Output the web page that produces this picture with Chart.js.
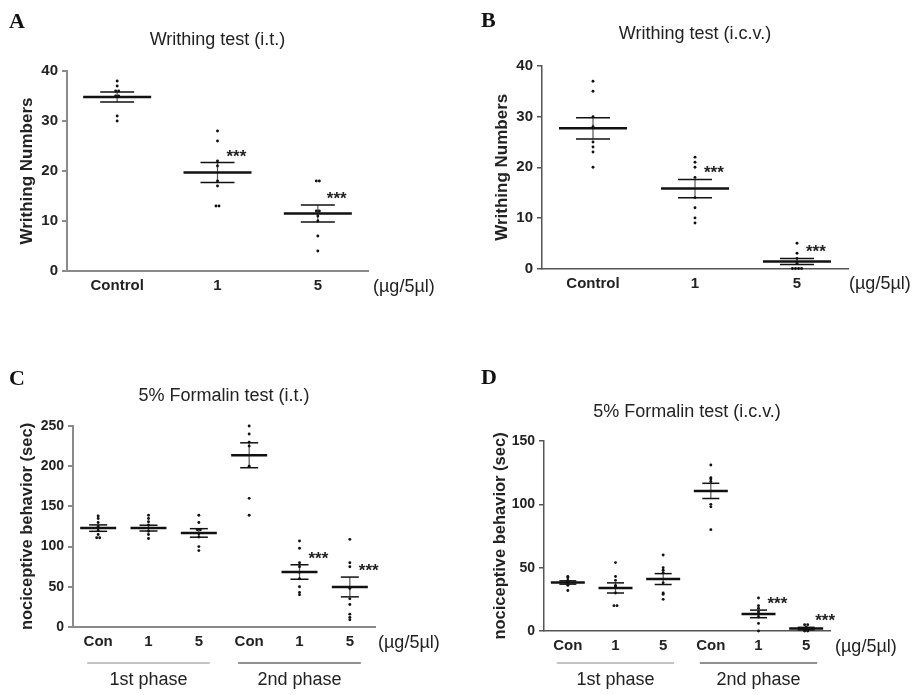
<!DOCTYPE html>
<html>
<head>
<meta charset="utf-8">
<script src="https://cdn.jsdelivr.net/npm/chart.js@4.4.1/dist/chart.umd.min.js"></script>
<style>
body { margin: 0; background: #fff; width: 915px; height: 695px; overflow: hidden; position: relative; }
canvas { position: absolute; left: 0; top: 0; }
</style>
</head>
<body>
<canvas id="chartA" width="915" height="695"></canvas>
<canvas id="chartB" width="915" height="695"></canvas>
<canvas id="chartC" width="915" height="695"></canvas>
<canvas id="chartD" width="915" height="695"></canvas>
<script>
// categories
const catsAB = ['Control', '1', '5'];
const catsCD = ['Con', '1', '5', 'Con', '1', '5'];
const phasesCD = ['1st phase', '2nd phase'];
const unitLabel = '(\u00b5g/5\u00b5l)';

// A: writhing test (i.t.)
const dotsA = [[38, 37, 36, 36, 35, 35, 31, 30], [28, 26, 22, 21, 18, 17, 13, 13], [18, 18, 12, 12, 11, 10, 7, 4]];
const meanA = [34.8, 19.7, 11.5];
const semA = [1.0, 2.0, 1.7];
const sigA = ['', '***', '***'];

// B: writhing test (i.c.v.)
const dotsB = [[37, 35, 30, 28, 25, 24, 23, 20], [22, 21, 20, 18, 14, 12, 10, 9], [5, 3, 2, 1, 0, 0, 0, 0]];
const meanB = [27.7, 15.8, 1.4];
const semB = [2.1, 1.8, 0.6];
const sigB = ['', '***', '***'];

// C: formalin test (i.t.)
const dotsC = [[138, 135, 130, 125, 120, 115, 111, 111], [139, 135, 131, 127, 123, 119, 115, 110],
    [139, 130, 121, 121, 116, 112, 100, 95], [250, 240, 230, 225, 200, 160, 139],
    [107, 98, 80, 75, 68, 60, 50, 43, 40], [109, 80, 75, 48, 35, 28, 16, 12, 9]];
const meanC = [123, 123, 117, 213.6, 68.4, 49.8];
const semC = [4, 3.6, 5.3, 15.5, 9, 12.3];
const sigC = ['', '', '', '', '***', '***'];

// D: formalin test (i.c.v.)
const dotsD = [[43, 42, 40, 39, 38, 37, 36, 32], [54, 43, 40, 36, 35, 30, 20, 20],
    [60, 50, 48, 46, 38, 30, 29, 25], [131, 121, 120, 118, 100, 98, 80],
    [26, 20, 18, 15, 13, 11, 6, 0], [5, 5, 3, 2, 1, 1, 0, 0]];
const meanD = [38.3, 34, 41, 110.6, 13.5, 1.9];
const semD = [1.3, 4, 4.3, 6, 3, 1];
const sigD = ['', '', '', '', '***', '***'];

const SANS = "'Liberation Sans', Arial, sans-serif";
const SERIF = "'Liberation Serif', 'Times New Roman', serif";

function makePanel(id, cats, dots, mean, sem, sig, p) {
    const yTitleLH = p.yTitleSize * 1.2;
    const yw = p.area.left - (p.yTitleX - yTitleLH / 2);
    const titleLH = 18 * 1.2;
    const padTop = p.titleY - titleLH / 2;
    const xh = 30;

    // dots: duplicates nudged sideways a little
    const pts = [];
    dots.forEach((vals, i) => {
        const seen = {};
        vals.forEach(v => {
            const n = vals.filter(u => u === v).length;
            const k = seen[v] = (seen[v] || 0) + 1;
            pts.push({ x: i + (k - (n + 1) / 2) * p.jitter, y: v });
        });
    });
    const semBar = [];
    mean.forEach((m, i) => {
        semBar.push({ x: i, y: m - sem[i] }, { x: i, y: m + sem[i] }, { x: i, y: null });
    });

    const extras = {
        id: 'extras' + id,
        afterDraw(chart) {
            const { ctx, chartArea } = chart;
            const x = chart.scales.x, y = chart.scales.y;
            ctx.save();
            // panel letter
            ctx.fillStyle = '#111';
            ctx.font = 'bold 22px ' + SERIF;
            ctx.textAlign = 'left';
            ctx.textBaseline = 'middle';
            ctx.fillText(p.letter, p.letterPos[0], p.letterPos[1]);
            // unit label
            ctx.font = '18px ' + SANS;
            ctx.fillStyle = '#222';
            ctx.fillText(unitLabel, chartArea.right + p.unitDx, chartArea.bottom + 16);
            // significance stars
            ctx.font = 'bold 17px ' + SANS;
            ctx.textBaseline = 'alphabetic';
            sig.forEach((s, i) => {
                if (!s) return;
                const top = y.getPixelForValue(mean[i] + sem[i]);
                ctx.fillText(s, x.getPixelForValue(i) + 9, top - 9 + 8);
            });
            // phase brackets
            if (p.phases) {
                ctx.textAlign = 'center';
                ctx.textBaseline = 'middle';
                ctx.font = '18px ' + SANS;
                p.phases.forEach((name, j) => {
                    const x0 = x.getPixelForValue(j * 3) - 11;
                    const x1 = x.getPixelForValue(j * 3 + 2) + 11;
                    ctx.strokeStyle = j === 0 ? '#888' : '#222';
                    ctx.lineWidth = 1.2;
                    ctx.beginPath();
                    ctx.moveTo(x0, chartArea.bottom + p.phaseDy);
                    ctx.lineTo(x1, chartArea.bottom + p.phaseDy);
                    ctx.stroke();
                    ctx.fillText(name, (x0 + x1) / 2, chartArea.bottom + p.phaseDy + 17);
                });
            }
            ctx.restore();
        }
    };

    return new Chart(document.getElementById(id), {
        type: 'scatter',
        data: {
            datasets: [
                {
                    label: 'animals',
                    data: pts,
                    clip: false,
                    pointRadius: 1.45,
                    pointBorderWidth: 0,
                    pointBackgroundColor: '#111'
                },
                {
                    label: 'mean',
                    data: mean.map((m, i) => ({ x: i, y: m })),
                    clip: false,
                    pointStyle: 'line',
                    pointRadius: p.meanHalf,
                    pointBorderWidth: 2.5,
                    pointBorderColor: '#111'
                },
                {
                    label: 'sem+',
                    data: mean.map((m, i) => ({ x: i, y: m + sem[i] })),
                    clip: false,
                    pointStyle: 'line',
                    pointRadius: p.semHalf,
                    pointBorderWidth: 1.5,
                    pointBorderColor: '#111'
                },
                {
                    label: 'sem-',
                    data: mean.map((m, i) => ({ x: i, y: m - sem[i] })),
                    clip: false,
                    pointStyle: 'line',
                    pointRadius: p.semHalf,
                    pointBorderWidth: 1.5,
                    pointBorderColor: '#111'
                },
                {
                    label: 'sem bar',
                    data: semBar,
                    showLine: true,
                    spanGaps: false,
                    pointRadius: 0,
                    borderColor: '#555',
                    borderWidth: 1.2
                }
            ]
        },
        options: {
            responsive: false,
            animation: false,
            events: [],
            layout: {
                padding: {
                    left: p.area.left - yw,
                    right: 915 - p.area.right,
                    top: padTop,
                    bottom: 695 - p.area.bottom - xh
                }
            },
            plugins: {
                legend: { display: false },
                tooltip: { enabled: false },
                title: {
                    display: true,
                    text: p.title,
                    fullSize: false,
                    color: '#222',
                    font: { family: SANS, size: 18, weight: 'normal' },
                    padding: { top: 0, bottom: p.area.top - padTop - titleLH }
                }
            },
            scales: {
                x: {
                    type: 'linear',
                    min: -0.5,
                    max: cats.length - 0.5,
                    afterBuildTicks: s => { s.ticks = cats.map((c, i) => ({ value: i })); },
                    afterFit: s => { s.height = xh; },
                    grid: { display: false, drawTicks: false },
                    border: { display: true, color: p.axisColor, width: p.axisWidth },
                    ticks: {
                        autoSkip: false,
                        maxRotation: 0,
                        padding: 6,
                        color: '#222',
                        font: { family: SANS, size: 15, weight: 'bold' },
                        callback: v => cats[v]
                    }
                },
                y: {
                    min: 0,
                    max: p.yMax,
                    afterFit: s => { s.width = yw; },
                    grid: { drawOnChartArea: false, tickLength: 5, color: p.axisColor, lineWidth: p.axisWidth },
                    border: { display: true, color: p.axisColor, width: p.axisWidth },
                    ticks: {
                        stepSize: p.yStep,
                        padding: 4,
                        color: '#222',
                        font: { family: SANS, size: p.yTickSize, weight: 'bold' }
                    },
                    title: {
                        display: true,
                        text: p.yTitle,
                        padding: 0,
                        color: '#222',
                        font: { family: SANS, size: p.yTitleSize, weight: 'bold' }
                    }
                }
            }
        },
        plugins: [extras]
    });
}

makePanel('chartA', catsAB, dotsA, meanA, semA, sigA, {
    title: 'Writhing test (i.t.)', yTitle: 'Writhing Numbers', letter: 'A',
    yMax: 40, yStep: 10, yTickSize: 15, yTitleSize: 17,
    area: { left: 67, right: 368, top: 71, bottom: 271 },
    titleY: 40, yTitleX: 27, letterPos: [9, 22], unitDx: 5,
    meanHalf: 34, semHalf: 17, jitter: 0.03,
    axisColor: '#8a8a8a', axisWidth: 2
});

makePanel('chartB', catsAB, dotsB, meanB, semB, sigB, {
    title: 'Writhing test (i.c.v.)', yTitle: 'Writhing Numbers', letter: 'B',
    yMax: 40, yStep: 10, yTickSize: 15, yTitleSize: 17,
    area: { left: 542, right: 848, top: 66, bottom: 268.5 },
    titleY: 34, yTitleX: 502, letterPos: [481, 21], unitDx: 1,
    meanHalf: 34, semHalf: 17, jitter: 0.03,
    axisColor: '#555', axisWidth: 1.5
});

makePanel('chartC', catsCD, dotsC, meanC, semC, sigC, {
    title: '5% Formalin test (i.t.)', yTitle: 'nociceptive behavior (sec)', letter: 'C',
    yMax: 250, yStep: 50, yTickSize: 14, yTitleSize: 16.5,
    area: { left: 73, right: 375, top: 426, bottom: 627 },
    titleY: 396, yTitleX: 27, letterPos: [9, 379], unitDx: 3,
    meanHalf: 18, semHalf: 9, jitter: 0.06, phases: phasesCD, phaseDy: 36,
    axisColor: '#8a8a8a', axisWidth: 2
});

makePanel('chartD', catsCD, dotsD, meanD, semD, sigD, {
    title: '5% Formalin test (i.c.v.)', yTitle: 'nociceptive behavior (sec)', letter: 'D',
    yMax: 150, yStep: 50, yTickSize: 14, yTitleSize: 16.5,
    area: { left: 544, right: 830, top: 441, bottom: 631 },
    titleY: 412.5, yTitleX: 500.5, letterPos: [481, 378], unitDx: 5,
    meanHalf: 17, semHalf: 8.5, jitter: 0.065, phases: phasesCD, phaseDy: 32,
    axisColor: '#555', axisWidth: 1.5
});
</script>
</body>
</html>
